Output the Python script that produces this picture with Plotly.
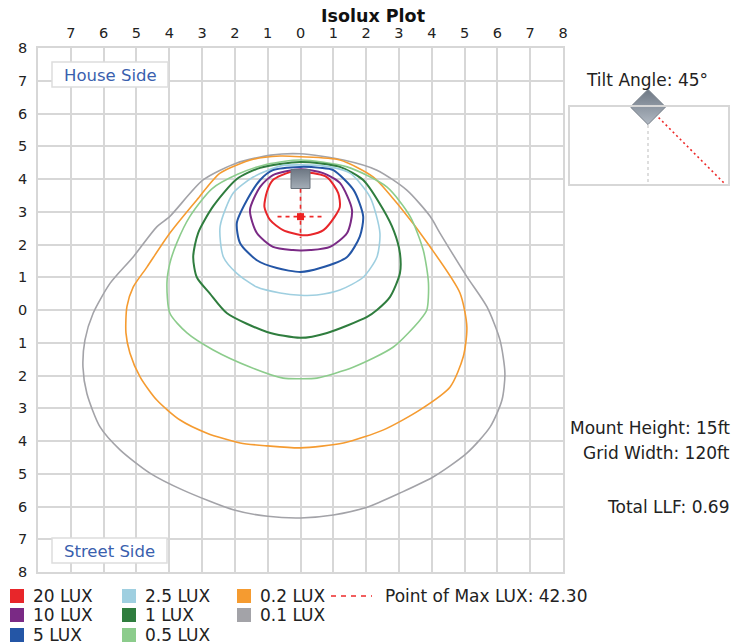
import math
import plotly.graph_objects as go

W, H = 742, 644
FONT = "DejaVu Sans"

# ---------------- data ----------------
LEVELS = ["20 LUX", "10 LUX", "5 LUX", "2.5 LUX", "1 LUX", "0.5 LUX", "0.2 LUX", "0.1 LUX"]
COLORS = ["#e8262a", "#7a2a85", "#2456a6", "#9fcfe0", "#2f7d3e", "#8ccc8c", "#f59b30", "#a3a3a8"]

C20_X = [0, 0.8, 1.15, 1.2, 1.05, 0.7, 0.3, 0, -0.53, -0.93, -1.1, -1.02, -0.84, -0.32, 0]
C20_Y = [4.22, 4.06, 3.57, 3.15, 2.86, 2.44, 2.3, 2.29, 2.44, 2.75, 3.15, 3.62, 3.97, 4.21, 4.22]

C10_X = [0, 0.69, 1.2, 1.57, 1.42, 0.9, 0.3, 0, -0.23, -0.84, -1.33, -1.54, -1.23, -0.84, 0]
C10_Y = [4.3, 4.18, 3.88, 3.05, 2.35, 1.93, 1.83, 1.82, 1.83, 1.93, 2.35, 3.05, 3.76, 4.12, 4.3]

C5_X = [0, 0.6, 1.0, 1.62, 1.91, 1.81, 1.42, 0.6, 0, -0.72, -1.33, -1.84, -1.94, -1.63, -1.23, -0.84, 0]
C5_Y = [4.37, 4.34, 4.27, 3.66, 2.86, 2.25, 1.62, 1.28, 1.16, 1.28, 1.52, 2.04, 2.66, 3.36, 3.97, 4.27, 4.37]

C25_X = [0, 0.9, 1.51, 2.12, 2.42, 2.33, 1.91, 1.2, 0.5, 0, -0.62, -1.33, -1.94, -2.35, -2.45, -2.05, -1.44, -0.6, 0]
C25_Y = [4.43, 4.37, 4.18, 3.45, 2.35, 1.62, 1.0, 0.61, 0.46, 0.45, 0.52, 0.7, 1.12, 1.62, 2.55, 3.57, 4.06, 4.4, 4.43]

C1_X = [0, 1.2, 1.91, 2.53, 2.85, 3.03, 3.03, 2.73, 2.33, 2.03, 0.81, 0, -1.02, -2.24, -2.76, -3.16, -3.27, -3.12, -2.66, -1.94, -1.23, 0]
C1_Y = [4.52, 4.37, 3.97, 3.05, 2.4, 1.74, 1.12, 0.4, 0.0, -0.21, -0.7, -0.85, -0.67, -0.1, 0.5, 1.0, 1.62, 2.35, 3.17, 4.0, 4.34, 4.52]

C05_X = [0, 1.42, 2.63, 3.34, 3.74, 3.9, 3.85, 3.64, 2.83, 1.62, 0.5, 0, -0.53, -1.54, -2.66, -3.46, -3.98, -4.07, -3.98, -3.77, -3.37, -2.7, -1.9, -1.02, 0]
C05_Y = [4.58, 4.37, 3.76, 2.86, 1.83, 0.82, 0.0, -0.31, -1.13, -1.74, -2.08, -2.1, -2.08, -1.74, -1.22, -0.7, -0.1, 0.82, 1.43, 2.05, 2.86, 3.7, 4.15, 4.45, 4.58]

C02_X = [0, 1.2, 2.22, 3.03, 3.95, 4.86, 5.07, 4.96, 4.56, 3.64, 2.53, 1.31, 0, -1.0, -1.84, -2.85, -3.67, -4.38, -4.89, -5.2, -5.32, -5.29, -5.1, -4.68, -3.98, -3.16, -2.45, -1.44, -0.62, 0]
C02_Y = [4.68, 4.58, 4.06, 3.15, 1.93, 0.52, -0.52, -1.43, -2.35, -3.05, -3.66, -4.06, -4.21, -4.15, -4.06, -3.76, -3.36, -2.75, -2.04, -1.31, -0.7, 0.1, 0.7, 1.31, 2.35, 3.36, 4.18, 4.6, 4.7, 4.68]

C01_X = [0, 1.31, 2.33, 3.24, 3.95, 4.25, 5.07, 5.68, 6.08, 6.23, 6.14, 5.78, 5.07, 4.04, 3.03, 2.03, 1.0, 0, -1.0, -2.05, -3.58, -4.59, -5.5, -6.11, -6.51, -6.63, -6.57, -6.32, -5.8, -5.1, -4.38, -3.98, -2.97, -1.94, -0.9, 0]
C01_Y = [4.77, 4.58, 4.27, 3.66, 2.86, 2.35, 1.02, 0.1, -0.92, -1.93, -2.75, -3.57, -4.37, -5.1, -5.59, -6.02, -6.26, -6.35, -6.3, -6.1, -5.5, -4.98, -4.27, -3.57, -2.55, -1.74, -0.92, -0.1, 0.82, 1.62, 2.54, 2.86, 3.97, 4.49, 4.73, 4.77]

CONTOURS_X = [C20_X, C10_X, C5_X, C25_X, C1_X, C05_X, C02_X, C01_X]
CONTOURS_Y = [C20_Y, C10_Y, C5_Y, C25_Y, C1_Y, C05_Y, C02_Y, C01_Y]

FIXTURE_X, FIXTURE_Y = 0, 4.0
MAX_X, MAX_Y = 0, 2.85
MAX_LUX = 42.30
CROSS_HALF = 0.7
CROSS_TOP, CROSS_BOTTOM = 3.7, 2.2

TILT_ANGLE = 45
MOUNT_HEIGHT = "15ft"
GRID_WIDTH = "120ft"
TOTAL_LLF = 0.69

X_TICKS = list(range(-7, 9))
Y_TICKS = list(range(-8, 9))


def px(x):
    return x / W


def py(y):
    return 1 - y / H


fig = go.Figure()

# contours, outermost first
for i in reversed(range(len(LEVELS))):
    dark = i in (0, 1, 2, 4)
    fig.add_trace(go.Scatter(
        x=CONTOURS_X[i], y=CONTOURS_Y[i], mode="lines",
        line=dict(color=COLORS[i], width=2 if dark else 1.6, shape="spline", smoothing=0.7),
        showlegend=False, hoverinfo="skip"))

# crosshair at point of max
fig.add_trace(go.Scatter(x=[MAX_X - CROSS_HALF, MAX_X + CROSS_HALF], y=[MAX_Y, MAX_Y], mode="lines",
                         line=dict(color="#ee2a2a", width=1.6, dash="4px,4px"), showlegend=False))
fig.add_trace(go.Scatter(x=[MAX_X, MAX_X], y=[CROSS_TOP, CROSS_BOTTOM], mode="lines",
                         line=dict(color="#ee2a2a", width=1.6, dash="4px,4px"), showlegend=False))
fig.add_trace(go.Scatter(x=[MAX_X], y=[MAX_Y], mode="markers",
                         marker=dict(symbol="square", size=7, color="#ee2222"), showlegend=False))
# fixture
fig.add_trace(go.Scatter(x=[FIXTURE_X], y=[FIXTURE_Y], mode="markers",
                         marker=dict(symbol="square", size=19, color="#6e7884",
                                     gradient=dict(type="vertical", color="#a4adb7"),
                                     line=dict(color="#6a737d", width=1)),
                         showlegend=False))

# inset (tilt angle)
box_l, box_r, box_t, box_b = 570, 728, 107, 184
pivot_px = 648
box_h = box_b - box_t
x2_range = [0, (box_r - box_l) / box_h]
pivot = (pivot_px - box_l) / box_h
end_x = pivot + math.tan(math.radians(TILT_ANGLE)) * 1.0
fig.add_trace(go.Scatter(x=[pivot, pivot], y=[0, -1], xaxis="x2", yaxis="y2", mode="lines",
                         line=dict(color="#bdbdbd", width=1, dash="3px,3px"), showlegend=False))
fig.add_trace(go.Scatter(x=[pivot, end_x], y=[0, -1], xaxis="x2", yaxis="y2", mode="lines",
                         line=dict(color="#ee2a2a", width=1.6, dash="2px,3px"), showlegend=False))
fig.add_trace(go.Scatter(x=[pivot], y=[0], xaxis="x2", yaxis="y2", mode="markers", cliponaxis=False,
                         marker=dict(symbol="diamond", size=27, color="#6e7884",
                                     gradient=dict(type="vertical", color="#b0b8c2"),
                                     line=dict(color="#737c86", width=1)),
                         showlegend=False))

grid_c = "#d7d7d7"
tick_font = dict(family=FONT, size=14.5, color="#222222")
fig.update_layout(
    template="none",
    width=W, height=H, autosize=False,
    margin=dict(l=0, r=0, t=0, b=0, pad=0),
    paper_bgcolor="white", plot_bgcolor="white",
    font=dict(family=FONT, color="#222222"),
    xaxis=dict(domain=[px(38), px(563)], range=[-8, 8], side="top", automargin=False,
               tickvals=X_TICKS, ticktext=[str(abs(v)) for v in X_TICKS],
               showgrid=True, gridcolor=grid_c, gridwidth=1.6,
               showline=True, mirror=True, linecolor=grid_c, linewidth=1.6,
               zeroline=False, ticks="outside", ticklen=2, tickcolor="rgba(0,0,0,0)",
               tickfont=tick_font, fixedrange=True),
    yaxis=dict(domain=[py(572), py(48)], range=[-8, 8], automargin=False,
               tickvals=Y_TICKS, ticktext=[str(abs(v)) for v in Y_TICKS],
               showgrid=True, gridcolor=grid_c, gridwidth=1.6,
               showline=True, mirror=True, linecolor=grid_c, linewidth=1.6,
               zeroline=False, ticks="outside", ticklen=6, tickcolor="rgba(0,0,0,0)",
               tickfont=tick_font, fixedrange=True),
    xaxis2=dict(domain=[px(box_l), px(box_r)], range=x2_range, anchor="y2", automargin=False,
                showgrid=False, zeroline=False, showticklabels=False, ticks="",
                showline=True, mirror=True, linecolor=grid_c, linewidth=1.5, fixedrange=True),
    yaxis2=dict(domain=[py(box_b), py(box_t)], range=[-1, 0], anchor="x2", automargin=False,
                showgrid=False, zeroline=False, showticklabels=False, ticks="",
                showline=True, mirror=True, linecolor=grid_c, linewidth=1.5, fixedrange=True),
    showlegend=False,
)

annotations = []
shapes = []


def text(x, y, s, size=15, color="#222222", xanchor="left", bold=False):
    annotations.append(dict(x=px(x), y=py(y), xref="paper", yref="paper", text=f"<b>{s}</b>" if bold else s,
                            showarrow=False, xanchor=xanchor, yanchor="middle",
                            font=dict(family=FONT, size=size, color=color)))


text(373, 16, "Isolux Plot", size=17.5, color="#111111", xanchor="center", bold=True)
text(647, 80, f"Tilt Angle: {TILT_ANGLE}°", size=17, xanchor="center")
text(732, 428, f"Mount Height: {MOUNT_HEIGHT}", size=17, xanchor="right")
text(732, 453, f"Grid Width: {GRID_WIDTH}", size=17, xanchor="right")
text(732, 507, f"Total LLF: {TOTAL_LLF:.2f}", size=17, xanchor="right")

# side labels
for (l, t, r, b), label in [((52, 62, 168, 87), "House Side"), ((52, 538, 167, 563), "Street Side")]:
    shapes.append(dict(type="rect", xref="paper", yref="paper", x0=px(l), x1=px(r), y0=py(b), y1=py(t),
                       line=dict(color="#dddddd", width=1.5), fillcolor="white", layer="above"))
    text((l + r) / 2, (t + b) / 2 + 1, label, size=16.5, color="#3a5fae", xanchor="center")

# legend
col_x = [10, 122, 237]
row_y = [596, 615, 635]
for i, (lab, col) in enumerate(zip(LEVELS, COLORS)):
    cx = col_x[i // 3]
    cy = row_y[i % 3]
    shapes.append(dict(type="rect", xref="paper", yref="paper", x0=px(cx), x1=px(cx + 14),
                       y0=py(cy + 7), y1=py(cy - 7), line=dict(width=0), fillcolor=col))
    text(cx + 21, cy, lab, size=17)
shapes.append(dict(type="line", xref="paper", yref="paper", x0=px(331), x1=px(372), y0=py(596), y1=py(596),
                   line=dict(color="#ee2a2a", width=1.6, dash="5px,5px")))
text(383, 596, f"Point of Max LUX: {MAX_LUX:.2f}", size=17)

fig.update_layout(annotations=annotations, shapes=shapes)
fig.write_html("out.html", config={"displayModeBar": False},
               post_script="document.body.style.margin='0px';document.body.style.overflow='hidden';")
